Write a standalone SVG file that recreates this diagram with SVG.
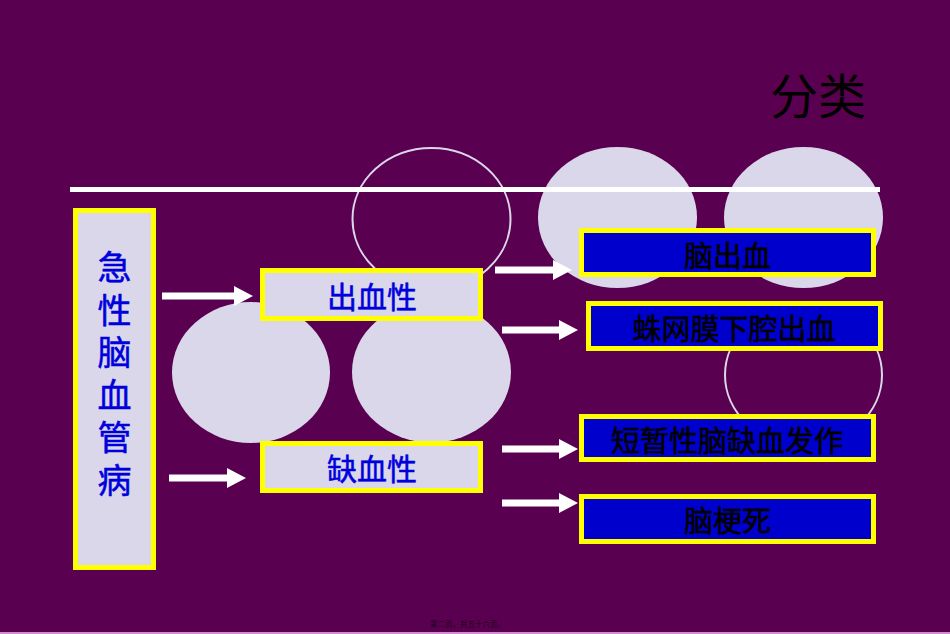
<svg xmlns="http://www.w3.org/2000/svg" width="950" height="634" viewBox="0 0 950 634">
<style>
.bg{fill:#5a0050}
.ell{fill:#dad7ea}
.ring{fill:none;stroke:#dad7ea;stroke-width:2}
.lbox{fill:#dad7ea;stroke:#ffff00;stroke-width:5}
.bbox{fill:#0000cc;stroke:#ffff00;stroke-width:5}
.bt{font-family:"Noto Sans CJK SC","Liberation Sans",sans-serif;fill:#0000dd;stroke:#0000dd;stroke-width:0.5;text-anchor:middle;dominant-baseline:central}
.kt{font-family:"Noto Sans CJK SC","Liberation Sans",sans-serif;fill:#000000;stroke:#000000;stroke-width:0.6;text-anchor:middle;dominant-baseline:central;font-size:29px}
.arr{fill:#ffffff}
</style>
<rect class="bg" x="0" y="0" width="950" height="634"/>
<rect x="0" y="632" width="950" height="2" fill="#d08ccc"/>

<g id="shapes">
<ellipse class="ring" cx="431.5" cy="219" rx="79" ry="71"/>
<ellipse class="ell" cx="617.5" cy="217.5" rx="79.5" ry="70.5"/>
<ellipse class="ell" cx="803.5" cy="217.5" rx="79.5" ry="70.5"/>
<ellipse class="ring" cx="803.5" cy="375" rx="78.5" ry="70"/>
<ellipse class="ell" cx="251" cy="372.5" rx="79" ry="70.5"/>
<ellipse class="ell" cx="431.5" cy="372" rx="79.5" ry="70.5"/>
</g>

<rect x="70" y="187" width="810" height="5" fill="#ffffff"/>

<text x="818" y="93" font-family="'Noto Sans CJK SC','Liberation Sans',sans-serif" font-size="48" fill="#000000" text-anchor="middle" dominant-baseline="central">分类</text>

<g id="n_root">
<rect class="lbox" x="75.5" y="210.5" width="78" height="357"/>
<text class="bt" font-size="34" x="114.5" y="250" style="writing-mode:vertical-rl;text-anchor:start;letter-spacing:8.6px">急性脑血管病</text>
</g>

<g id="n_hemo">
<rect class="lbox" x="262.5" y="270.5" width="218" height="48"/>
<text class="bt" font-size="30" x="372" y="295">出血性</text>
</g>

<g id="n_isch">
<rect class="lbox" x="262.5" y="443.5" width="218" height="47"/>
<text class="bt" font-size="30" x="372" y="467">缺血性</text>
</g>

<g id="n_ich">
<rect class="bbox" x="581.5" y="230.5" width="292" height="44"/>
<text class="kt" x="727.5" y="254">脑出血</text>
</g>

<g id="n_sah">
<rect class="bbox" x="588.5" y="303.5" width="292" height="45"/>
<text class="kt" x="734" y="327">蛛网膜下腔出血</text>
</g>

<g id="n_tia">
<rect class="bbox" x="581.5" y="416.5" width="292" height="43"/>
<text class="kt" x="727" y="439">短暂性脑缺血发作</text>
</g>

<g id="n_ci">
<rect class="bbox" x="581.5" y="496.5" width="292" height="45"/>
<text class="kt" x="727.5" y="519">脑梗死</text>
</g>

<g id="connectors">
<path class="arr" d="M162,292.5 H234 V286 L253,296 L234,306 V299.5 H162 Z"/>
<path class="arr" d="M169,474.5 H227 V468 L246,478 L227,488 V481.5 H169 Z"/>
<path class="arr" d="M495,266.5 H553 V260 L572,270 L553,280 V273.5 H495 Z"/>
<path class="arr" d="M502,326.5 H559 V320 L578,330 L559,340 V333.5 H502 Z"/>
<path class="arr" d="M502,445.5 H559 V439 L578,449 L559,459 V452.5 H502 Z"/>
<path class="arr" d="M502,499.5 H559 V493 L578,503 L559,513 V506.5 H502 Z"/>
</g>

<text x="467.5" y="623" font-family="'Noto Sans CJK SC','Liberation Sans',sans-serif" font-size="7.5" fill="#1e001a" text-anchor="middle" dominant-baseline="central">第二页，共五十六页。</text>
</svg>
